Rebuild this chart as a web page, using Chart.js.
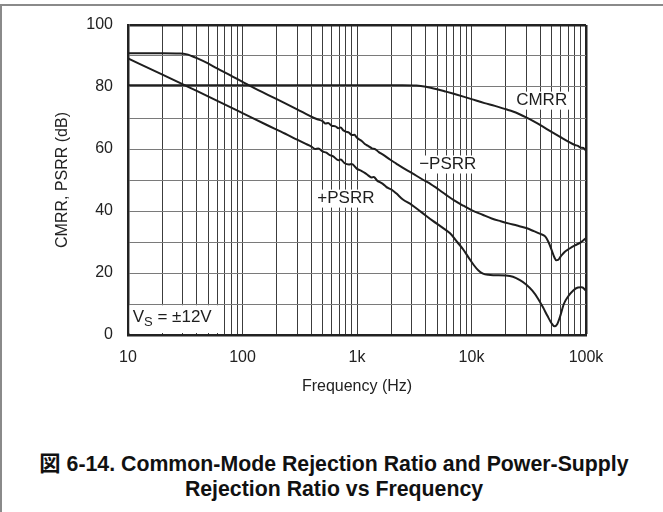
<!DOCTYPE html>
<html>
<head>
<meta charset="utf-8">
<script src="https://cdn.jsdelivr.net/npm/chart.js@4.4.1/dist/chart.umd.min.js"></script>
<style>
  html, body { margin: 0; padding: 0; background: #fff; }
  body { width: 663px; height: 512px; position: relative; overflow: hidden; font-family: "Liberation Sans", Arial, sans-serif; }
  #frame { position: absolute; left: 0; top: 4px; width: 663px; height: 510px; border-top: 2px solid #8a8a8a; border-left: 2px solid #8a8a8a; box-sizing: border-box; }
  #wrap { position: absolute; left: 0; top: 0; width: 663px; height: 420px; }
  #caption { position: absolute; left: 0; width: 668px; top: 452px; text-align: center; font-weight: bold; font-size: 21.3px; line-height: 25px; color: #111; font-family: "Liberation Sans", Arial, "Noto Sans CJK JP", sans-serif; }
</style>
</head>
<body>
<div id="frame"></div>
<div id="wrap"><canvas id="c"></canvas></div>
<div id="caption">図 6-14. Common-Mode Rejection Ratio and Power-Supply<br>Rejection Ratio vs Frequency</div>
<script>
// ---- data ----
const cmrrFreq = [10, 100, 1000, 2500, 3300, 4000, 5000, 6000, 7000, 8500, 10000, 13000, 16000, 20000, 23000, 26000, 30000, 35000, 40000, 50000, 60000, 70000, 80000, 85000, 90000, 95000, 100000];
const cmrrDb   = [80.6, 80.6, 80.6, 80.6, 80.5, 80.1, 79.3, 78.5, 77.8, 76.9, 76.1, 74.8, 73.9, 72.8, 72.1, 71.3, 70.2, 68.9, 67.7, 65.5, 63.8, 62.4, 61.3, 61.0, 60.4, 60.3, 59.4];

const minusFreq = [10, 20, 28, 32, 36, 40, 50, 60, 80, 120, 170, 234, 300, 400, 450, 500, 530, 560, 600, 650, 687, 720, 760, 800, 850, 900, 950, 1000, 1100, 1170, 1250, 1350, 1450, 1550, 1700, 1940, 2200, 2500, 3000, 3800, 4400, 5000, 6000, 7000, 8500, 10000, 12500, 15000, 18000, 21000, 25000, 30000, 35000, 40000, 44000, 47000, 50000, 53000, 55000, 57000, 60000, 65000, 72000, 80000, 90000, 100000];
const minusDb   = [90.9, 90.9, 90.8, 90.6, 90.0, 89.3, 87.6, 86.0, 83.6, 80.1, 77.3, 74.8, 72.8, 70.4, 69.6, 69.0, 68.2, 68.4, 67.5, 67.3, 66.7, 66.9, 66.0, 65.6, 65.3, 64.5, 64.6, 63.6, 62.6, 61.6, 61.0, 60.2, 59.9, 59.0, 58.1, 56.6, 55.3, 54.0, 52.3, 50.0, 48.7, 47.3, 45.2, 43.5, 41.7, 40.3, 38.8, 37.6, 36.7, 36.0, 35.3, 34.5, 33.5, 32.6, 31.8, 30.0, 27.5, 25.0, 24.1, 24.2, 25.3, 26.8, 27.9, 28.9, 29.9, 31.3];

const plusFreq = [10, 20, 34.6, 50, 100, 160, 234, 300, 350, 400, 430, 460, 500, 540, 580, 620, 687, 720, 780, 850, 900, 1000, 1100, 1170, 1250, 1350, 1400, 1500, 1600, 1700, 1800, 1900, 2000, 2200, 2500, 3000, 3600, 4600, 5500, 6500, 7500, 8500, 9500, 10500, 11500, 12600, 14000, 16000, 20000, 23000, 26500, 30000, 34000, 38000, 42000, 46000, 50000, 53000, 56000, 60000, 64000, 70000, 77000, 85000, 92000, 100000];
const plusDb   = [89.2, 84.0, 79.8, 77.0, 71.6, 67.9, 65.0, 63.0, 61.8, 60.8, 60.0, 60.2, 59.2, 58.8, 58.0, 57.6, 56.4, 56.6, 55.4, 55.0, 55.2, 53.6, 52.9, 52.3, 51.5, 50.8, 51.0, 49.8, 49.2, 48.6, 47.8, 47.3, 46.9, 45.7, 43.8, 42.0, 39.8, 36.8, 34.8, 32.8, 30.0, 27.5, 24.8, 22.5, 20.8, 19.8, 19.4, 19.3, 19.2, 18.8, 17.7, 16.3, 14.3, 11.8, 9.0, 6.2, 3.8, 2.8, 3.5, 6.5, 10.0, 12.5, 14.3, 15.3, 15.4, 14.3];

const xDecades = [10, 100, 1000, 10000, 100000];
const xTickLabels = ['10', '100', '1k', '10k', '100k'];
const yTickValues = [0, 10, 20, 30, 40, 50, 60, 70, 80, 90, 100];
const yTickLabelEvery = 20;

const curveLabels = ['CMRR', '\u2212PSRR', '+PSRR'];
const curveLabelFreq = [41000, 6200, 800];
const curveLabelDb = [75.6, 55.0, 44.0];

// ---- build ----
const toPts = (xs, ys) => xs.map((x, i) => ({ x: x, y: ys[i] }));
const INK = '#1e1e1e';
const FONT = '"Liberation Sans", Arial, sans-serif';

const labelPlugin = {
  id: 'labels',
  afterDatasetsDraw(chart) {
    const { ctx, scales: { x, y }, chartArea } = chart;
    ctx.save();
    ctx.font = '17px ' + FONT;
    ctx.textBaseline = 'middle';
    ctx.textAlign = 'center';
    curveLabels.forEach((t, i) => {
      const px = x.getPixelForValue(curveLabelFreq[i]);
      const py = y.getPixelForValue(curveLabelDb[i]);
      const w = ctx.measureText(t).width;
      ctx.fillStyle = '#fff';
      ctx.fillRect(px - w / 2 - 2, py - 9, w + 4, 18);
      ctx.fillStyle = INK;
      ctx.fillText(t, px, py);
    });
    // Vs box
    const bx0 = chartArea.left + 1.5;
    const bx1 = x.getPixelForValue(66);
    const by0 = y.getPixelForValue(9.6);
    const by1 = chartArea.bottom - 2;
    ctx.fillStyle = '#fff';
    ctx.fillRect(bx0, by0, bx1 - bx0, by1 - by0);
    ctx.fillStyle = INK;
    ctx.textAlign = 'left';
    ctx.textBaseline = 'alphabetic';
    let tx = x.getPixelForValue(11.0);
    const ty = y.getPixelForValue(4.3);
    ctx.font = '17px ' + FONT;
    ctx.fillText('V', tx, ty);
    tx += ctx.measureText('V').width;
    ctx.font = '13px ' + FONT;
    ctx.fillText('S', tx, ty + 4);
    tx += ctx.measureText('S').width;
    ctx.font = '17px ' + FONT;
    ctx.fillText(' = \u00b112V', tx, ty);
    ctx.restore();
  }
};

const mk = (label, xs, ys) => ({
  label: label,
  data: toPts(xs, ys),
  borderColor: INK,
  borderWidth: 2,
  pointRadius: 0,
  fill: false,
  tension: 0,
  cubicInterpolationMode: 'monotone'
});

new Chart(document.getElementById('c'), {
  type: 'line',
  data: {
    datasets: [
      mk('CMRR', cmrrFreq, cmrrDb),
      mk('-PSRR', minusFreq, minusDb),
      mk('+PSRR', plusFreq, plusDb)
    ]
  },
  options: {
    responsive: true,
    maintainAspectRatio: false,
    animation: false,
    layout: { padding: { left: 53, top: 25, right: 77, bottom: 24 } },
    plugins: { legend: { display: false }, tooltip: { enabled: false } },
    scales: {
      x: {
        type: 'logarithmic',
        min: xDecades[0],
        max: xDecades[xDecades.length - 1],
        afterBuildTicks(scale) {
          const t = [];
          for (let d = 0; d < xDecades.length - 1; d++) {
            for (let k = 1; k < 10; k++) t.push({ value: xDecades[d] * k });
          }
          t.push({ value: xDecades[xDecades.length - 1] });
          scale.ticks = t;
        },
        afterFit(scale) { scale.height = 61; },
        ticks: {
          autoSkip: false,
          maxRotation: 0,
          padding: 13,
          color: '#222',
          font: { size: 16, family: FONT },
          callback(value) {
            const i = xDecades.indexOf(value);
            return i >= 0 ? xTickLabels[i] : '';
          }
        },
        grid: {
          drawTicks: false,
          color: ctx => (ctx.tick && ctx.tick.value === 100000) ? '#222' : '#3c3c3c',
          lineWidth: ctx => (ctx.tick && ctx.tick.value === 100000) ? 2.5 : 1
        },
        border: { display: true, color: '#222', width: 2.5 },
        title: {
          display: true,
          text: 'Frequency (Hz)',
          color: '#222',
          padding: 0,
          font: { size: 16, family: FONT }
        }
      },
      y: {
        type: 'linear',
        min: 0,
        max: 100,
        afterBuildTicks(scale) { scale.ticks = yTickValues.map(v => ({ value: v })); },
        afterFit(scale) { scale.width = 128 - 53; },
        ticks: {
          padding: 15,
          color: '#222',
          font: { size: 16, family: FONT },
          callback(value) { return value % yTickLabelEvery === 0 ? String(value) : ''; }
        },
        grid: {
          drawTicks: false,
          color: ctx => (ctx.tick && ctx.tick.value === 100) ? '#222' : '#7a7a7a',
          lineWidth: ctx => (ctx.tick && ctx.tick.value === 100) ? 2.5 : 1
        },
        border: { display: true, color: '#222', width: 2.5 },
        title: {
          display: true,
          text: 'CMRR, PSRR (dB)',
          color: '#222',
          padding: 0,
          font: { size: 16, family: FONT }
        }
      }
    }
  },
  plugins: [labelPlugin]
});
</script>
</body>
</html>
